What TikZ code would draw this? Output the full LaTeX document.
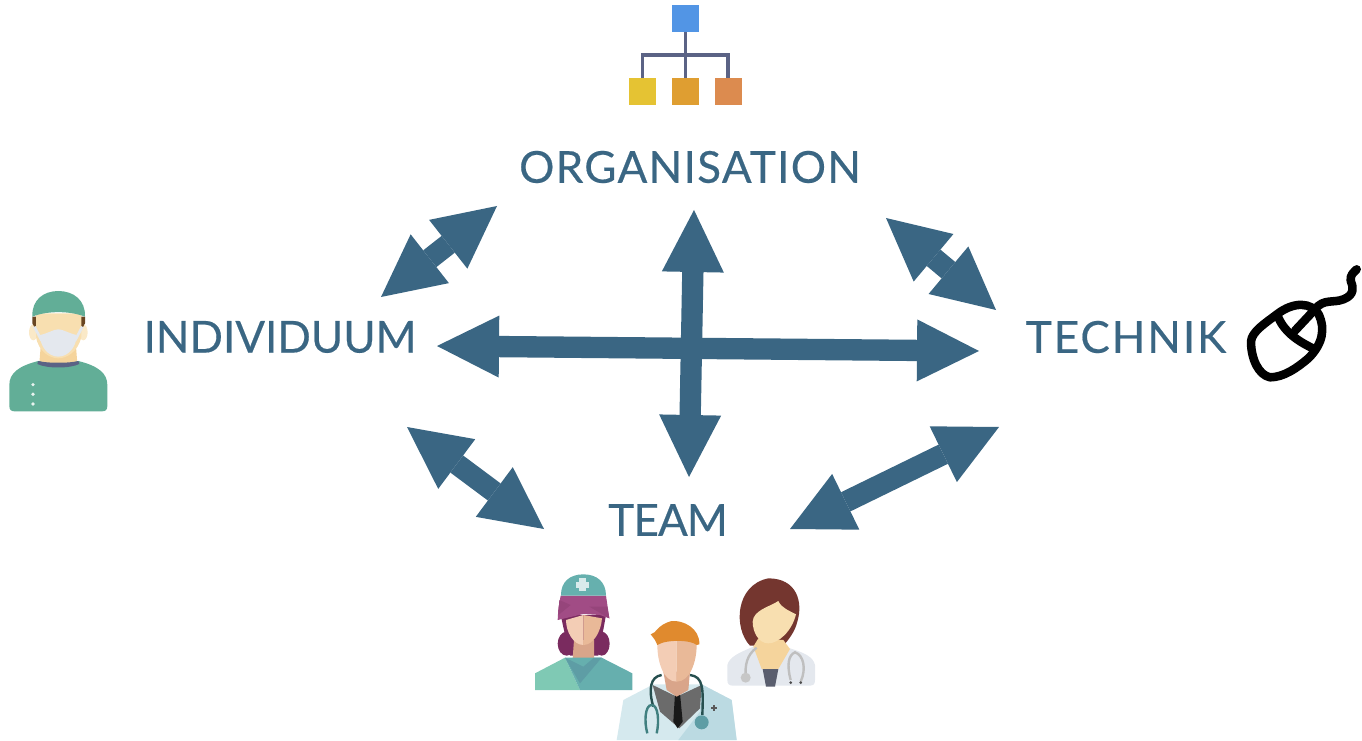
\documentclass[tikz,border=0pt]{standalone}
\usepackage{fontspec}
\setmainfont{Lato}
\usepackage{xcolor}
\usetikzlibrary{arrows.meta,positioning}
\definecolor{labelblue}{HTML}{3A6683}
\definecolor{capgreen}{HTML}{62AE97}
\definecolor{skin}{HTML}{F8DFB0}
\definecolor{skinshade}{HTML}{F5D49C}
\definecolor{skinpink}{HTML}{F3CDB5}
\definecolor{skindark}{HTML}{E9B998}
\definecolor{neckdark}{HTML}{D9A58A}
\definecolor{coat}{HTML}{E4E8EE}
\definecolor{linkgray}{HTML}{5B6385}
\definecolor{bossblue}{HTML}{5295E5}
\definecolor{unityellow}{HTML}{E5C333}
\definecolor{unitamber}{HTML}{DF9E31}
\definecolor{unitorange}{HTML}{DC8B4F}
\definecolor{scarf}{HTML}{A14C85}
\definecolor{scarfdark}{HTML}{96457B}
\definecolor{nursehair}{HTML}{7A2B5F}
\definecolor{nursecap}{HTML}{66B0AE}
\definecolor{scrubleft}{HTML}{7FC9B4}
\definecolor{scrubright}{HTML}{66AFAE}
\definecolor{scrubcollar}{HTML}{5E9DA5}
\definecolor{manhair}{HTML}{E08A2E}
\definecolor{mancoat}{HTML}{D5E9EE}
\definecolor{mancoatdark}{HTML}{BBDAE2}
\definecolor{womanhair}{HTML}{74362F}
\definecolor{womanshirt}{HTML}{5A5E6E}
\tikzset{lab/.style={text=labelblue,inner sep=0pt,font=\fontsize{33}{33}\selectfont},
    biarrow/.style={draw=labelblue,line width=16pt,{Triangle[length=46.5pt,width=46.5pt,line width=0pt]}-{Triangle[length=46.5pt,width=46.5pt,line width=0pt]}},
    orgbox/.style={draw=none,minimum size=20.25pt,inner sep=0pt},
    orglink/.style={draw=linkgray,line width=2.6pt},
    zoomed/.style={scale=1/3}}
\begin{document}
\begin{tikzpicture}[x=0.75pt,y=-0.75pt]
    \useasboundingbox (0,0) rectangle (1362,741);

    \node[lab] (org) at (690,167) {\addfontfeatures{LetterSpace=3,FakeBold=0.4}ORGANISATION};
    \node[lab] (ind) at (280,337) {\addfontfeatures{FakeBold=0.4}INDIVIDUUM};
    \node[lab] (tech) at (1126,337) {\addfontfeatures{LetterSpace=4.4,FakeBold=0.4}TECHNIK};
    \node[lab] (team) at (668,520) {\addfontfeatures{LetterSpace=-2,FakeBold=0.4}TEAM};

    \coordinate (orgleft) at (497,206);
    \coordinate (indtop) at (381,297);
    \coordinate (orgright) at (886,218);
    \coordinate (techtop) at (996,310);
    \coordinate (indlow) at (407,427);
    \coordinate (teamleft) at (544,529);
    \coordinate (techlow) at (999,427);
    \coordinate (teamright) at (790,529);
    \coordinate (indmid) at (437,346);
    \coordinate (techmid) at (979,351);
    \coordinate (orgmid) at (694,210);
    \coordinate (teammid) at (689,477);

    \draw [biarrow] (orgleft) to (indtop);
    \draw [biarrow] (orgright) to (techtop);
    \draw [biarrow] (indlow) to (teamleft);
    \draw [biarrow] (techlow) to (teamright);
    \draw [biarrow] (indmid) to (techmid);
    \draw [biarrow] (orgmid) to (teammid);

    \node[orgbox,fill=bossblue] (boss) at (685.5,18.5) {};
    \node[orgbox,fill=unityellow] (unita) at (642.7,92) {};
    \node[orgbox,fill=unitamber] (unitb) at (685.5,92) {};
    \node[orgbox,fill=unitorange] (unitc) at (728,92) {};
    \coordinate (fork) at (685.5,55);
    \draw [orglink] (boss) to (unitb);
    \draw [orglink] (unita) |- (fork) -| (unitc);

    % surgeon
    \begin{scope}[shift={(0,280)},zoomed]
        \fill[skin!70!white] (100,157) ellipse (13 and 24) (250,157) ellipse (13 and 24);
        \fill[skinshade] (122,200) -- (228,200) -- (232,250) -- (118,250) -- cycle;
        \fill[black!45!brown] (97,110) -- (255,110) -- (255,130) -- (244,150) -- (108,150) -- (97,130) -- cycle;
        \fill[skin] (108,100) -- (244,100) -- (244,170) .. controls (235,215) and (200,235) .. (175,235) .. controls (150,235) and (115,215) .. (108,170) -- cycle;
        \fill[capgreen] (28,378) .. controls (28,390) and (34,394) .. (44,394) -- (306,394) .. controls (316,394) and (322,390) .. (322,378) -- (322,315) .. controls (322,280) and (295,258) .. (235,243) -- (175,258) -- (115,243) .. controls (55,258) and (28,280) .. (28,315) -- cycle;
        \fill[linkgray] (115,243) .. controls (140,250) and (210,250) .. (235,243) -- (238,252) .. controls (210,266) and (140,266) .. (112,252) -- cycle;
        \fill[capgreen] (97,110) .. controls (95,60) and (130,33) .. (175,33) .. controls (220,33) and (257,60) .. (255,110) .. controls (210,92) and (140,92) .. (97,110) -- cycle;
        \draw[coat,line width=2pt] (103,140) -- (125,182) (247,140) -- (225,182);
        \fill[coat] (120,165) .. controls (145,160) and (160,148) .. (175,148) .. controls (190,148) and (205,160) .. (230,165) .. controls (230,200) and (205,230) .. (175,230) .. controls (145,230) and (120,200) .. (120,165) -- cycle;
        \fill[white!85!capgreen] (99,314) circle (5.5) (99,343) circle (5.5) (99,372) circle (5.5);
    \end{scope}

    % mouse
    \begin{scope}[shift={(1240,260)},zoomed,draw=black,line width=6.4pt,line cap=round,line join=round]
        \draw (33,245) .. controls (35,215) and (75,190) .. (112,162) .. controls (160,125) and (215,125) .. (237,165) .. controls (255,205) and (250,250) .. (205,295) .. controls (170,325) and (130,352) .. (90,352) .. controls (55,345) and (33,295) .. (33,245) -- cycle;
        \draw (112,165) .. controls (130,215) and (175,245) .. (225,268);
        \draw (165,212) -- (225,148);
        \draw (225,148) .. controls (250,115) and (280,130) .. (310,118) .. controls (345,105) and (340,80) .. (332,62) .. controls (330,45) and (340,38) .. (350,28);
    \end{scope}

    % nurse, doctor, colleague
    \begin{scope}[shift={(520,565)},zoomed]
        % colleague
        \fill[coat] (622,345) .. controls (622,358) and (628,362) .. (640,362) -- (868,362) .. controls (880,362) and (885,358) .. (885,345) -- (885,300) .. controls (880,275) and (850,262) .. (810,250) -- (700,245) .. controls (660,262) and (628,275) .. (622,300) -- cycle;
        \fill[womanhair] (690,242) .. controls (640,190) and (645,60) .. (745,40) .. controls (830,40) and (850,110) .. (832,170) .. controls (825,200) and (805,225) .. (790,242) -- cycle;
        \fill[skinshade] (715,220) -- (790,225) -- (810,252) -- (775,312) -- (725,312) -- (700,245) -- cycle;
        \fill[womanshirt] (728,312) -- (775,312) -- (765,365) -- (738,365) -- cycle;
        \fill[skin] (698,170) .. controls (700,135) and (750,125) .. (775,108) .. controls (785,130) and (810,138) .. (828,148) .. controls (815,200) and (775,235) .. (745,235) .. controls (715,235) and (698,200) .. (698,170) -- cycle;
        \draw[black!25,line width=1.8pt] (710,248) .. controls (680,270) and (675,300) .. (677,335);
        \fill[black!22] (677,338) circle (15);
        \draw[black!25,line width=1.8pt] (812,345) .. controls (800,300) and (805,270) .. (825,262) .. controls (850,270) and (860,310) .. (842,350);
        \fill[black!70] (812,353) circle (4.5) (842,353) circle (4.5);
        % nurse
        \fill[nursehair] (122,150) -- (258,150) -- (248,205) -- (235,272) -- (150,272) -- (134,205) -- cycle;
        \fill[nursehair] (140,236) ellipse (27 and 36);
        \fill[nursehair] (245,236) ellipse (24 and 36);
        \fill[neckdark] (162,225) -- (222,225) -- (222,282) -- (190,305) -- (158,280) -- cycle;
        \fill[skinpink] (138,165) -- (190,150) -- (190,240) .. controls (160,240) and (138,200) .. (138,165) -- cycle;
        \fill[skindark] (190,150) -- (246,160) .. controls (243,200) and (220,240) .. (190,240) -- cycle;
        \fill[scarf] (122,92) -- (258,92) -- (268,160) -- (240,150) -- (190,147) -- (113,165) -- (115,130) -- cycle;
        \fill[scarfdark] (118,105) -- (152,120) -- (115,150) -- cycle;
        \fill[scarfdark] (208,125) -- (262,125) -- (268,160) -- cycle;
        \fill[nursecap] (123,92) .. controls (122,50) and (150,28) .. (190,28) .. controls (230,28) and (258,50) .. (258,92) -- cycle;
        \fill[white!75!nursecap] (178,40) rectangle (198,78);
        \fill[white!75!nursecap] (168,50) rectangle (208,68);
        \fill[scrubleft] (45,325) -- (135,278) -- (180,375) -- (45,375) -- cycle;
        \fill[scrubright] (135,278) -- (245,278) -- (337,325) -- (337,375) -- (180,375) -- cycle;
        \fill[scrubcollar] (135,278) -- (190,305) -- (222,278) -- (245,278) -- (180,355) -- cycle;
        % doctor
        \fill[mancoat] (290,525) -- (310,405) -- (400,358) -- (545,358) -- (635,405) -- (650,525) -- cycle;
        \fill[mancoatdark] (545,358) -- (635,405) -- (650,525) -- (475,525) -- (540,440) -- cycle;
        \fill[black!58] (398,360) -- (470,395) -- (545,360) -- (540,430) -- (478,490) -- (420,440) -- cycle;
        \fill[black!90] (465,385) -- (480,385) -- (488,470) -- (473,490) -- (460,470) -- cycle;
        \fill[neckdark] (430,320) -- (510,320) -- (505,375) -- (470,395) -- (440,375) -- cycle;
        \fill[skinpink] (412,220) -- (470,220) -- (470,350) .. controls (430,350) and (412,290) .. (412,240) -- cycle;
        \fill[skindark] (470,220) -- (530,220) -- (530,240) .. controls (530,290) and (510,350) .. (470,350) -- cycle;
        \fill[manhair] (392,208) .. controls (410,205) and (410,180) .. (455,168) .. controls (490,165) and (540,190) .. (538,238) -- (530,240) .. controls (515,225) and (440,222) .. (412,240) -- (405,225) -- cycle;
        \draw[black!55!teal!70!gray,line width=1.8pt] (400,425) .. controls (385,375) and (390,335) .. (425,330) (510,330) .. controls (550,335) and (550,370) .. (547,450);
        \draw[teal!50!gray,line width=1.8pt] (382,505) .. controls (372,470) and (375,420) .. (395,420) .. controls (415,420) and (418,470) .. (410,505);
        \fill[scrubcollar] (545,472) circle (21);
        \fill[black!65] (572,427) rectangle (590,433);
        \fill[black!65] (578,421) rectangle (584,439);
    \end{scope}
\end{tikzpicture}
\end{document}
